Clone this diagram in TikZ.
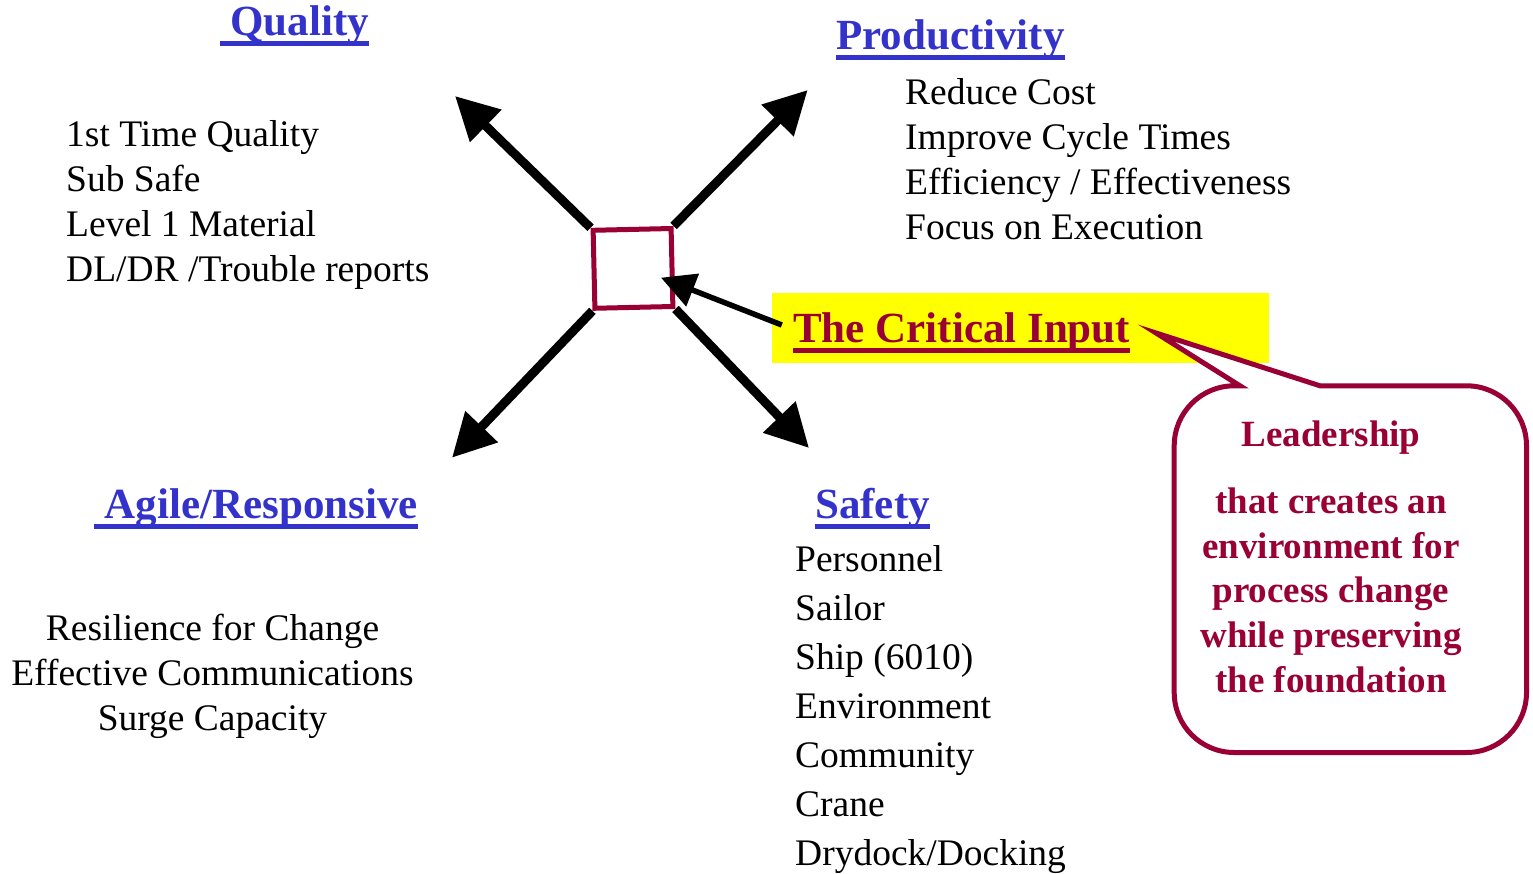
\documentclass[tikz,border=0pt]{standalone}
\usepackage{fontspec}
\setmainfont{Liberation Serif}
\usetikzlibrary{arrows.meta,backgrounds}
\definecolor{tblue}{HTML}{3333CC}
\definecolor{crim}{HTML}{990033}
\definecolor{hiyel}{HTML}{FFFF00}
\newcommand\ulx[1]{\setbox0=\hbox{#1}\rlap{\rule[-10pt]{\wd0}{4.5pt}}\box0}
\tikzset{
  body/.style={anchor=base west, inner sep=0pt, font=\fontsize{37.5}{44}\selectfont},
  bodyc/.style={anchor=base, inner sep=0pt, font=\fontsize{37.5}{44}\selectfont},
  ttl/.style={anchor=base west, inner sep=0pt, text=tblue, font=\fontsize{43}{50}\selectfont\bfseries},
  lead/.style={anchor=base, inner sep=0pt, text=crim, font=\fontsize{37}{44}\selectfont\bfseries},
  bigarrow/.style={draw=black, line width=9pt, -{Triangle[length=43pt,width=43pt]}},
  inarrow/.style={draw=black, line width=5.5pt, -{Triangle[length=34pt,width=34pt]}},
  centerbox/.style={draw=crim, fill=white, line width=5pt, minimum size=78pt, inner sep=0pt, rotate=1.3},
  calloutshape/.style={draw=crim, fill=white, line width=5pt, line join=miter},
}
\begin{document}
\begin{tikzpicture}[x=1pt,y=1pt]
\useasboundingbox (0,0) rectangle (1533,873);
\begin{pgfonlayer}{background}
\fill[white] (0,0) rectangle (1533,873);
\end{pgfonlayer}

% titles
\node[ttl] (qual) at (219.5,837) {\ulx{\ Quality}};
\node[ttl] (prod) at (836,823) {\ulx{Productivity}};
\node[ttl] (agile) at (94,354) {\ulx{\ Agile/Responsive}};
\node[ttl] (safe) at (815,354) {\ulx{Safety}};

% quality list
\node[body] (q1) at (66,726.3) {1st Time Quality};
\node[body] (q2) at (66,681.3) {Sub Safe};
\node[body] (q3) at (66,636.3) {Level 1 Material};
\node[body] (q4) at (66,591.3) {DL/DR /Trouble reports};

% productivity list
\node[body] (p1) at (905,768) {Reduce Cost};
\node[body] (p2) at (905,723) {Improve Cycle Times};
\node[body] (p3) at (905,678) {Efficiency / Effectiveness};
\node[body] (p4) at (905,633) {Focus on Execution};

% agile list
\node[bodyc] (a1) at (212.5,232.3) {Resilience for Change};
\node[bodyc] (a2) at (212.5,187.3) {Effective Communications};
\node[bodyc] (a3) at (212.5,142.3) {Surge Capacity};

% safety list
\node[body] (s1) at (795,301) {Personnel};
\node[body] (s2) at (795,252.2) {Sailor};
\node[body] (s3) at (795,203.3) {Ship (6010)};
\node[body] (s4) at (795,154.5) {Environment};
\node[body] (s5) at (795,105.7) {Community};
\node[body] (s6) at (795,56.8) {Crane};
\node[body] (s7) at (795,8) {Drydock/Docking};

% central square and arrows
\node[centerbox] (sq) at (633,604.6) {};
\coordinate (tipNW) at (455,777);
\coordinate (tipNE) at (807.7,783);
\coordinate (tipSW) at (452,415.3);
\coordinate (tipSE) at (809,425);
\begin{pgfonlayer}{background}
\draw[bigarrow] (sq.north west) -- (tipNW);
\draw[bigarrow] (sq.north east) -- (tipNE);
\draw[bigarrow] (sq.south west) -- (tipSW);
\draw[bigarrow] (sq.south east) -- (tipSE);
\end{pgfonlayer}

% the critical input
\node[fill=hiyel, minimum width=497pt, minimum height=70.5pt, inner sep=0pt] (crit) at (1020.5,545) {};
\node[ttl, text=crim] (crittext) at (793,530) {\ulx{The Critical Input}};
\coordinate (intip) at (661,595.3);
\draw[inarrow] ([xshift=10pt,yshift=3pt]crit.west) -- (intip);

% callout
\coordinate (ptip) at (1156,540);
\path[calloutshape] (1240,487.2) -- (ptip) -- (1320,487.2) -- (1466.5,487.2)
  arc[start angle=90,end angle=0,radius=60] -- (1526.5,180.5)
  arc[start angle=0,end angle=-90,radius=60] -- (1234.2,120.5)
  arc[start angle=270,end angle=180,radius=60] -- (1174.2,427.2)
  arc[start angle=180,end angle=90,radius=60] -- cycle;
\node[lead] (l0) at (1331,426.3) {Leadership};
\node[lead] (l1) at (1331,359) {that creates an};
\node[lead] (l2) at (1331,314.5) {environment for};
\node[lead] (l3) at (1331,270) {process change};
\node[lead] (l4) at (1331,225.5) {while preserving};
\node[lead] (l5) at (1331,181) {the foundation};
\end{tikzpicture}
\end{document}
